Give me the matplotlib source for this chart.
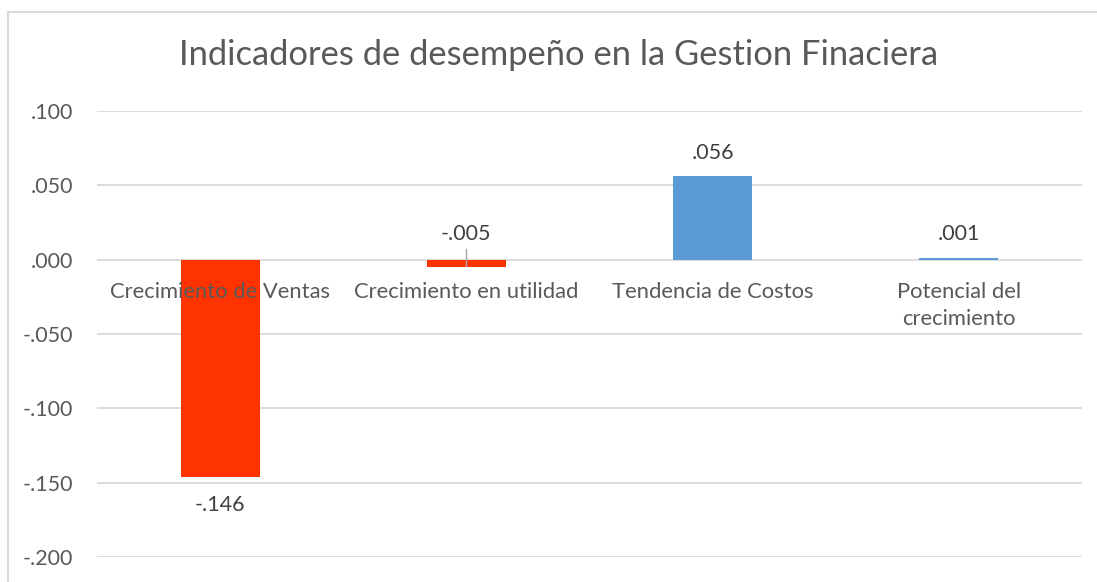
import matplotlib
matplotlib.use("Agg")
import matplotlib.pyplot as plt
from matplotlib.patches import Rectangle

categories = ["Crecimiento de Ventas", "Crecimiento en utilidad",
              "Tendencia de Costos", "Potencial del\ncrecimiento"]
values = [-0.146, -0.005, 0.056, 0.001]
yticks = [-0.200, -0.150, -0.100, -0.050, 0.000, 0.050, 0.100]

RED = "#FF3300"
BLUE = "#5B9BD5"
GREY_TXT = "#595959"
GRID = "#D9D9D9"

plt.rcParams['font.family'] = ['Lato', 'DejaVu Sans']


def fmt(v):
    s = f"{v:.3f}"
    return s.replace("0.", ".", 1)


fig = plt.figure(figsize=(10.97, 5.82), dpi=100)
fig.patches.append(Rectangle((8 / 1097, -0.1), 1.2, 1.1 - 12 / 582,
                             transform=fig.transFigure, fill=False,
                             edgecolor=GRID, linewidth=1.5))

ax = fig.add_axes((97 / 1097, 1 - 557 / 582, (1082 - 97) / 1097, (557 - 111) / 582))
x = list(range(len(values)))
colors = [RED if v < 0 else BLUE for v in values]
ax.bar(x, values, width=0.32, color=colors, zorder=3)

ax.set_xlim(-0.5, len(values) - 0.5)
ax.set_ylim(-0.2, 0.1)
ax.set_yticks(yticks)
ax.set_yticklabels([fmt(v) for v in yticks], color=GREY_TXT, fontsize=15.5)
ax.tick_params(axis='y', length=0, pad=17)
ax.set_xticks([])
ax.grid(axis='y', color=GRID, linewidth=1.3, zorder=0)
for s in ax.spines.values():
    s.set_visible(False)

# category labels sit just under the zero line
for xi, name in zip(x, categories):
    ax.annotate(name, (xi, 0), xytext=(0, -16), textcoords='offset points',
                ha='center', va='top', fontsize=15.8, color=GREY_TXT,
                linespacing=1.45, zorder=4)

# data labels
for xi, v in zip(x, values):
    if v < -0.05:
        ax.annotate(fmt(v), (xi, v), xytext=(0, -13), textcoords='offset points',
                    ha='center', va='top', fontsize=15.5, color="#404040")
    elif v < 0:
        ax.plot([xi, xi], [0.007, -0.004], color="#A6A6A6", lw=1, zorder=4)
        ax.annotate(fmt(v), (xi, 0.007), xytext=(0, 4), textcoords='offset points',
                    ha='center', va='bottom', fontsize=15.5, color="#404040")
    else:
        ax.annotate(fmt(v), (xi, v), xytext=(0, 10), textcoords='offset points',
                    ha='center', va='bottom', fontsize=15.5, color="#404040")

fig.text(0.509, 1 - 55 / 582, "Indicadores de desempeño en la Gestion Finaciera",
         ha='center', va='center', fontsize=24.8, color=GREY_TXT)

fig.savefig("out.png", dpi=100)
